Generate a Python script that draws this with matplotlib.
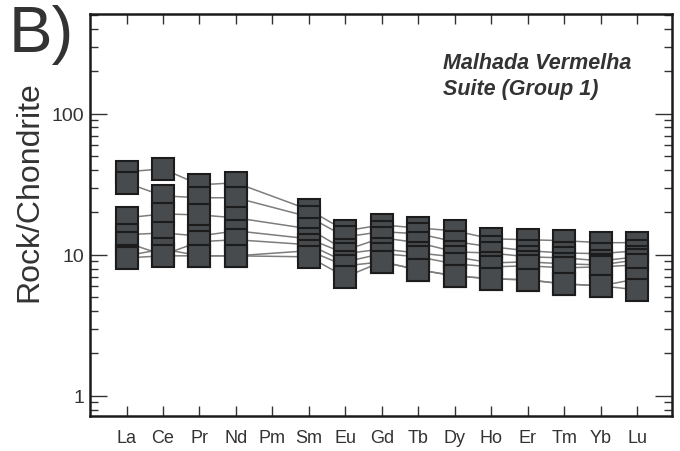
import matplotlib
matplotlib.use("Agg")
import matplotlib.pyplot as plt
from matplotlib.ticker import LogLocator, NullFormatter

# ---------------- data ----------------
elements = ["La", "Ce", "Pr", "Nd", "Pm", "Sm", "Eu", "Gd", "Tb", "Dy", "Ho", "Er", "Tm", "Yb", "Lu"]
measured = ["La", "Ce", "Pr", "Nd", "Sm", "Eu", "Gd", "Tb", "Dy", "Ho", "Er", "Tm", "Yb", "Lu"]

s1 = [38.8, 40.7, 31.4, 32.4, 20.9, 14.8, 16.3, 15.5, 14.8, 13.0, 12.8, 12.6, 12.2, 12.2]
s2 = [32.4, 26.2, 25.4, 25.4, 18.6, 13.4, 14.6, 14.1, 12.4, 11.4, 10.7, 10.3, 10.2, 10.7]
s3 = [18.3, 19.5, 19.2, 18.3, 15.3, 10.8, 13.2, 12.2, 10.5, 10.3, 9.68, 9.52, 9.07, 9.68]
s4 = [13.9, 14.3, 13.6, 14.8, 13.0, 10.2, 11.0, 10.3, 9.68, 8.77, 8.92, 8.63, 8.49, 9.22]
s5 = [12.2, 10.0, 12.4, 12.8, 11.8, 8.92, 10.2, 9.68, 8.63, 8.22, 8.36, 8.09, 8.22, 8.49]
s6 = [9.84, 11.0, 9.84, 9.84, 10.7, 8.36, 8.92, 7.83, 7.10, 6.76, 6.65, 6.22, 6.03, 6.76]
s7 = [9.52, 9.84, 9.84, 9.84, 9.68, 6.98, 8.92, 7.83, 7.10, 6.76, 6.65, 6.22, 6.03, 5.65]
samples = [s1, s2, s3, s4, s5, s6, s7]

ytick_vals = [1, 10, 100]
ytick_labels = ["1", "10", "100"]

panel_label = "B)"
title_text = "Malhada Vermelha\nSuite (Group 1)"
ylabel_text = "Rock/Chondrite"

# ---------------- style ----------------
FONT = ["Liberation Sans Narrow", "Liberation Sans", "DejaVu Sans"]
TXT = "#333333"
plt.rcParams["font.family"] = FONT

fig = plt.figure(figsize=(6.8, 4.52), dpi=100)
ax = fig.add_axes([0.1324, 0.0774, 0.8556, 0.8894])

xpos = [elements.index(e) for e in measured]

for s in samples:
    ax.plot(xpos, s, color="#7d7d7d", lw=1.1, zorder=2)
for s in samples:
    ax.plot(xpos, s, ls="none", marker="s", ms=15.5, mfc="#474b4e",
            mec="#1c1c1c", mew=1.5, zorder=3)

ax.set_yscale("log")
ax.set_ylim(0.72, 510)
ax.set_xlim(-1.0, 14.95)

ax.set_xticks(range(len(elements)))
ax.set_xticklabels(elements, fontsize=13, color=TXT)
ax.set_yticks(ytick_vals)
ax.set_yticklabels(ytick_labels, fontsize=14, color=TXT)
ax.yaxis.set_minor_locator(LogLocator(base=10, subs=range(2, 10)))
ax.yaxis.set_minor_formatter(NullFormatter())

ax.tick_params(axis="x", which="major", direction="in", top=True, bottom=True,
               length=7, width=1.0, color="#333333", pad=9)
ax.tick_params(axis="y", which="major", direction="in", left=True, right=True,
               length=12, width=1.0, color="#333333", pad=4)
ax.tick_params(axis="y", which="minor", direction="in", left=True, right=True,
               length=6, width=1.0, color="#333333")

for sp in ax.spines.values():
    sp.set_linewidth(1.8)
    sp.set_color("#1a1a1a")

ax.set_ylabel(ylabel_text, fontsize=23, color=TXT, labelpad=6)
ax.yaxis.set_label_coords(-0.079, 0.56)

fig.text(0.012, 0.99, panel_label, fontsize=47, color=TXT, va="top", ha="left")
ax.text(0.607, 0.905, title_text, transform=ax.transAxes, fontsize=15.5,
        fontweight="bold", fontstyle="italic", color=TXT, va="top", ha="left",
        linespacing=1.3)

fig.savefig("out.png", dpi=100)
